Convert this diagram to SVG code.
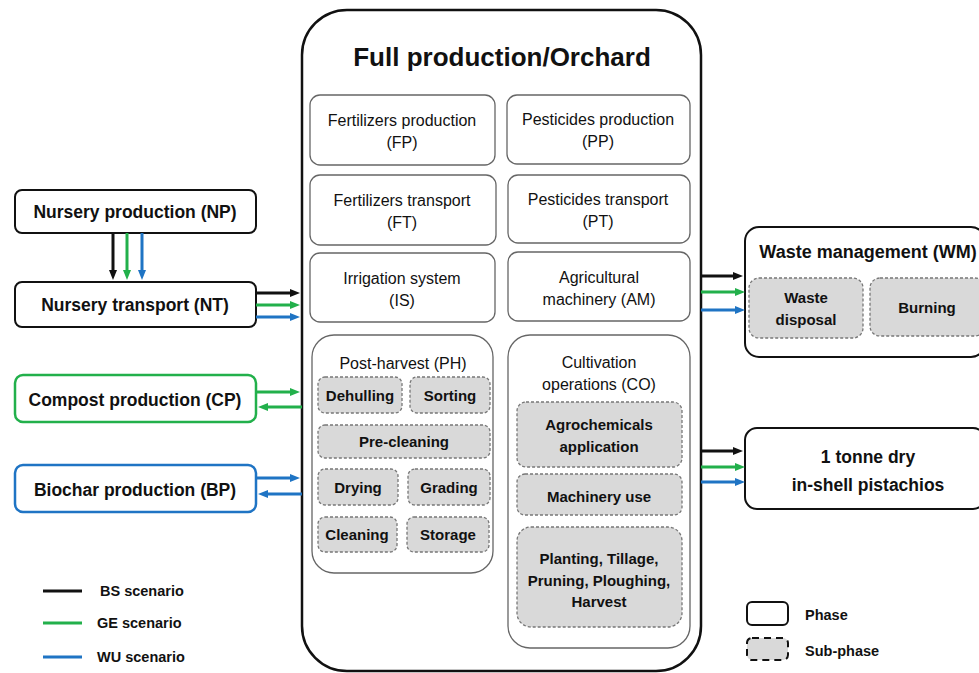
<svg xmlns="http://www.w3.org/2000/svg" width="979" height="673" viewBox="0 0 979 673">
<style>
text{font-family:"Liberation Sans",Arial,sans-serif;fill:#111;text-anchor:middle}
.b{font-weight:bold}
.main{fill:#fff;stroke:#111;stroke-width:2.5}
.phase{fill:#fff;stroke:#111;stroke-width:2}
.inner{fill:#fff;stroke:#666;stroke-width:1.3}
.sub{fill:#d9d9d9;stroke:#777;stroke-width:1.3;stroke-dasharray:3 2}
.k{stroke:#111;stroke-width:3;fill:none}
.g{stroke:#22b04b;stroke-width:3;fill:none}
.u{stroke:#1f74c4;stroke-width:3;fill:none}
.t16{font-size:16px}
.t15{font-size:15px;font-weight:bold}
.t17{font-size:17.5px;font-weight:bold}
.leg{font-size:14.5px;font-weight:bold;text-anchor:start}
</style>
<defs>
<marker id="ak" viewBox="0 0 10 8" markerWidth="10" markerHeight="8" refX="2" refY="4" orient="auto" markerUnits="userSpaceOnUse"><path d="M0,0L10,4L0,8z" fill="#111"/></marker>
<marker id="ag" viewBox="0 0 10 8" markerWidth="10" markerHeight="8" refX="2" refY="4" orient="auto" markerUnits="userSpaceOnUse"><path d="M0,0L10,4L0,8z" fill="#22b04b"/></marker>
<marker id="au" viewBox="0 0 10 8" markerWidth="10" markerHeight="8" refX="2" refY="4" orient="auto" markerUnits="userSpaceOnUse"><path d="M0,0L10,4L0,8z" fill="#1f74c4"/></marker>
</defs>
<rect width="979" height="673" fill="#fff"/>

<g id="orchard">
<rect class="main" x="302" y="10" width="399" height="661" rx="45"/>
<text class="b" x="502" y="66" style="font-size:26px">Full production/Orchard</text>
</g>
<g id="FP"><rect class="inner" x="310" y="95" width="185" height="70" rx="10"/>
<text class="t16" x="402" y="125.5">Fertilizers production</text><text class="t16" x="402" y="147.5">(FP)</text></g>
<g id="PP"><rect class="inner" x="507" y="95" width="183" height="69" rx="10"/>
<text class="t16" x="598" y="124.5">Pesticides production</text><text class="t16" x="598" y="146.5">(PP)</text></g>
<g id="FT"><rect class="inner" x="310" y="175" width="186" height="70" rx="10"/>
<text class="t16" x="402" y="205.5">Fertilizers transport</text><text class="t16" x="402" y="227.5">(FT)</text></g>
<g id="PT"><rect class="inner" x="508" y="175" width="182" height="68" rx="10"/>
<text class="t16" x="598" y="204.5">Pesticides transport</text><text class="t16" x="598" y="226.5">(PT)</text></g>
<g id="IS"><rect class="inner" x="310" y="253" width="185" height="69" rx="10"/>
<text class="t16" x="402" y="283.5">Irrigation system</text><text class="t16" x="402" y="305.5">(IS)</text></g>
<g id="AM"><rect class="inner" x="508" y="252" width="182" height="69" rx="10"/>
<text class="t16" x="599" y="282.5">Agricultural</text><text class="t16" x="599" y="304.5">machinery (AM)</text></g>

<g id="PH"><rect class="inner" x="312" y="335" width="181" height="238" rx="22"/>
<text class="t16" x="403" y="369">Post-harvest (PH)</text></g>
<g id="PH-dehulling"><rect class="sub" x="318" y="377" width="84" height="36" rx="7"/><text class="t15" x="360" y="400.5">Dehulling</text></g>
<g id="PH-sorting"><rect class="sub" x="410" y="377" width="80" height="36" rx="7"/><text class="t15" x="450" y="400.5">Sorting</text></g>
<g id="PH-precleaning"><rect class="sub" x="318" y="425" width="172" height="33" rx="7"/><text class="t15" x="404" y="446.5">Pre-cleaning</text></g>
<g id="PH-drying"><rect class="sub" x="318" y="469" width="80" height="36" rx="7"/><text class="t15" x="358" y="492.5">Drying</text></g>
<g id="PH-grading"><rect class="sub" x="408" y="469" width="82" height="36" rx="7"/><text class="t15" x="449" y="492.5">Grading</text></g>
<g id="PH-cleaning"><rect class="sub" x="318" y="517" width="79" height="35" rx="7"/><text class="t15" x="357" y="540">Cleaning</text></g>
<g id="PH-storage"><rect class="sub" x="407" y="517" width="82" height="35" rx="7"/><text class="t15" x="448" y="540">Storage</text></g>

<g id="CO"><rect class="inner" x="508" y="335" width="182" height="313" rx="22"/>
<text class="t16" x="599" y="367.5">Cultivation</text><text class="t16" x="599" y="389.5">operations (CO)</text></g>
<g id="CO-agro"><rect class="sub" x="517" y="402" width="165" height="65" rx="9"/><text class="t15" x="599" y="429.5">Agrochemicals</text><text class="t15" x="599" y="451.5">application</text></g>
<g id="CO-machinery"><rect class="sub" x="517" y="474" width="165" height="41" rx="8"/><text class="t15" x="599" y="501.5">Machinery use</text></g>
<g id="CO-planting"><rect class="sub" x="517" y="527" width="165" height="100" rx="14"/><text class="t15" x="599" y="563.5">Planting, Tillage,</text><text class="t15" x="599" y="585.5">Pruning, Ploughing,</text><text class="t15" x="599" y="606.5">Harvest</text></g>

<g id="NP"><rect class="phase" x="15" y="190" width="241" height="43" rx="7"/><text class="t17" x="135" y="218">Nursery production (NP)</text></g>
<g id="NT"><rect class="phase" x="15" y="282" width="241" height="45" rx="7"/><text class="t17" x="135" y="311">Nursery transport (NT)</text></g>
<g id="CP"><rect class="phase" style="stroke:#22b04b;stroke-width:2.5" x="15" y="375" width="241" height="47" rx="8"/><text class="t17" x="135" y="406">Compost production (CP)</text></g>
<g id="BP"><rect class="phase" style="stroke:#1f74c4;stroke-width:2.5" x="15" y="465" width="241" height="47" rx="8"/><text class="t17" x="135" y="496">Biochar production (BP)</text></g>

<g id="WM"><rect class="phase" x="745" y="227" width="240" height="130" rx="14"/>
<text class="t17" x="868" y="258" style="font-size:18px">Waste management (WM)</text></g>
<g id="WM-disposal"><rect class="sub" x="749" y="278" width="114" height="60" rx="10"/><text class="t15" x="806" y="303">Waste</text><text class="t15" x="806" y="325">disposal</text></g>
<g id="WM-burning"><rect class="sub" x="870" y="278" width="115" height="58" rx="10"/><text class="t15" x="927" y="312.5">Burning</text></g>

<g id="output"><rect class="phase" x="745" y="428" width="240" height="81" rx="12"/>
<text class="t17" x="868" y="463">1 tonne dry</text><text class="t17" x="868" y="491">in-shell pistachios</text></g>

<g id="connectors">
<line class="k" x1="113" y1="233" x2="113" y2="272" marker-end="url(#ak)"/>
<line class="g" x1="127" y1="233" x2="127" y2="272" marker-end="url(#ag)"/>
<line class="u" x1="142" y1="233" x2="142" y2="272" marker-end="url(#au)"/>
<line class="k" x1="256" y1="293" x2="292" y2="293" marker-end="url(#ak)"/>
<line class="g" x1="256" y1="305" x2="292" y2="305" marker-end="url(#ag)"/>
<line class="u" x1="256" y1="317" x2="292" y2="317" marker-end="url(#au)"/>
<line class="g" x1="256" y1="392" x2="292" y2="392" marker-end="url(#ag)"/>
<line class="g" x1="302" y1="407" x2="266" y2="407" marker-end="url(#ag)"/>
<line class="u" x1="256" y1="478" x2="292" y2="478" marker-end="url(#au)"/>
<line class="u" x1="302" y1="494" x2="266" y2="494" marker-end="url(#au)"/>
<line class="k" x1="701" y1="276" x2="735" y2="276" marker-end="url(#ak)"/>
<line class="g" x1="701" y1="292" x2="737" y2="292" marker-end="url(#ag)"/>
<line class="u" x1="701" y1="310" x2="737" y2="310" marker-end="url(#au)"/>
<line class="k" x1="701" y1="451" x2="735" y2="451" marker-end="url(#ak)"/>
<line class="g" x1="701" y1="467" x2="737" y2="467" marker-end="url(#ag)"/>
<line class="u" x1="701" y1="482" x2="737" y2="482" marker-end="url(#au)"/>
</g>

<g id="legend">
<line class="k" x1="43" y1="591" x2="82" y2="591"/>
<text class="leg" x="100" y="596">BS scenario</text>
<line class="g" x1="43" y1="623" x2="82" y2="623"/>
<text class="leg" x="97" y="628">GE scenario</text>
<line class="u" x1="43" y1="657" x2="82" y2="657"/>
<text class="leg" x="97" y="662">WU scenario</text>
<rect class="phase" x="747" y="602" width="41" height="23" rx="5"/>
<text class="leg" x="805" y="620">Phase</text>
<rect x="747" y="638" width="41" height="22" rx="5" fill="#d9d9d9" stroke="#111" stroke-width="2" stroke-dasharray="7 5"/>
<text class="leg" x="805" y="656">Sub-phase</text>
</g>
</svg>
